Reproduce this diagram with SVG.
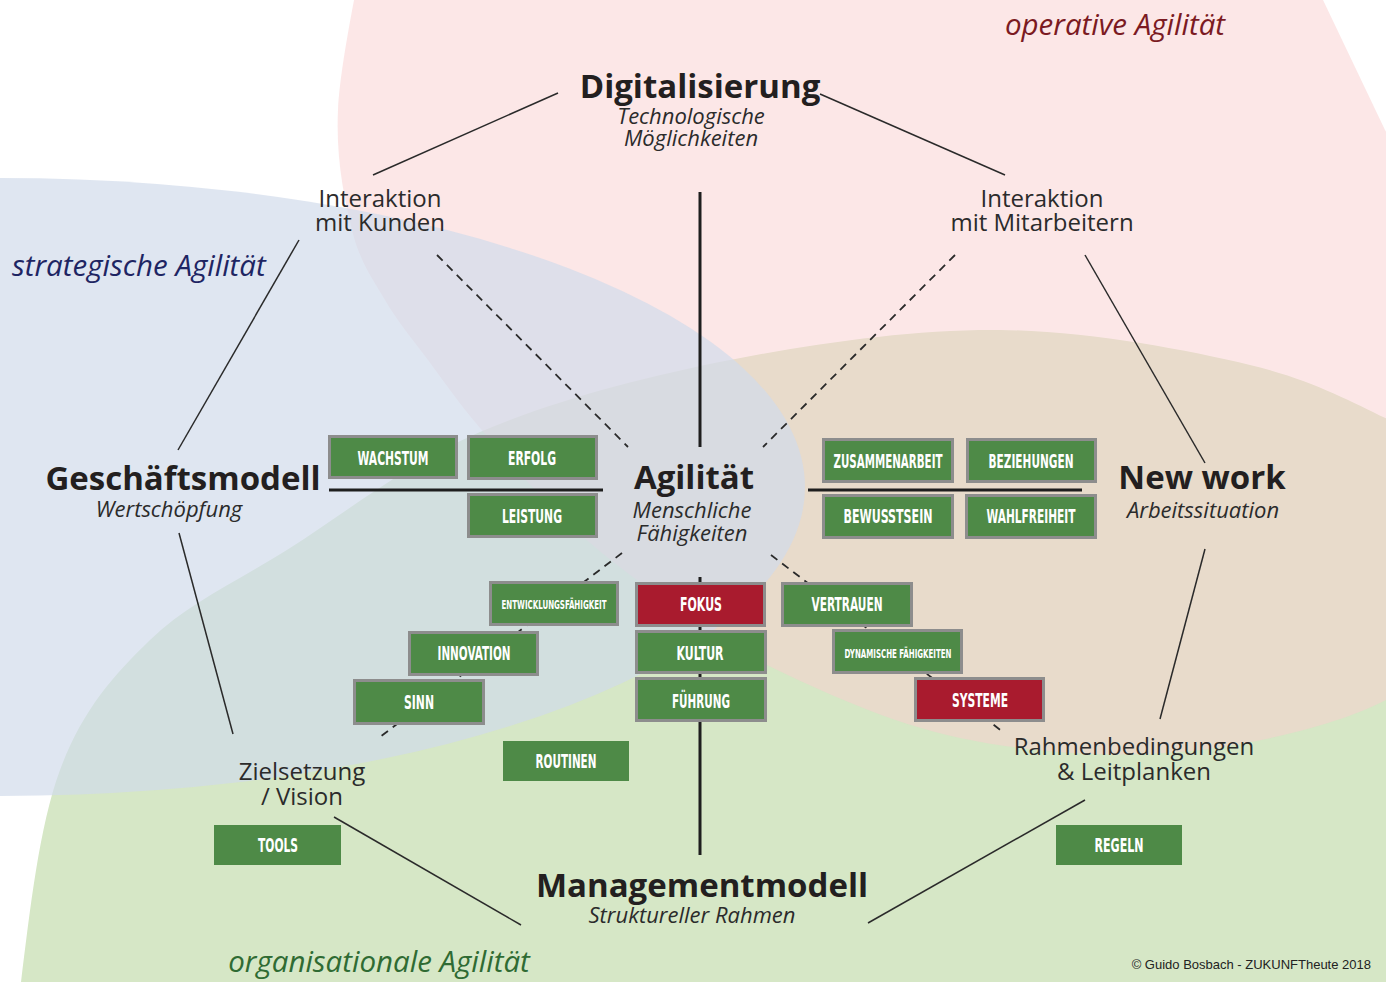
<svg xmlns="http://www.w3.org/2000/svg" width="1386" height="982" viewBox="0 0 1386 982">
<defs>
<style>
.title{font-family:"Open Sans","DejaVu Sans",sans-serif;font-weight:bold;font-size:33px;fill:#231f20;text-anchor:middle}
.sub{font-family:"Open Sans","DejaVu Sans",sans-serif;font-style:italic;font-size:22px;fill:#2b2b2b;text-anchor:middle}
.mid{font-family:"Open Sans","DejaVu Sans",sans-serif;font-size:24px;fill:#2b2b2b;text-anchor:middle}
.area{font-family:"Open Sans","DejaVu Sans",sans-serif;font-style:italic;font-size:29.5px}
.box{fill:#4e8a47;stroke:#8d8d8d;stroke-width:3}
.boxr{fill:#a91b2e;stroke:#8d8d8d;stroke-width:3}
.flat{fill:#4e8a47}
.lbl{font-family:"DejaVu Sans Condensed","DejaVu Sans",sans-serif;font-stretch:condensed;font-weight:bold;font-size:19px;fill:#ffffff;text-anchor:middle}
.lbls{font-family:"DejaVu Sans Condensed","DejaVu Sans",sans-serif;font-stretch:condensed;font-weight:bold;font-size:12.5px;fill:#ffffff;text-anchor:middle}
.ln{stroke:#2a2a2a;stroke-width:1.5;fill:none}
.thick{stroke:#1e1e1e;stroke-width:3;fill:none}
.dash{stroke:#2a2a2a;stroke-width:1.8;fill:none;stroke-dasharray:8 6}
</style>
</defs>
<rect x="0" y="0" width="1386" height="982" fill="#ffffff"/>
<g id="background">
<path id="green-area" fill="#d6e7c6" d="M 5,1100 L 20,990 C 29.2,918.3 38.3,828.3 60,770 C 81.7,711.7 111.7,677 150,640 C 188.3,603 235,582.7 290,548 C 345,513.3 406.7,463.3 480,432 C 553.3,400.7 643.3,377 730,360 C 816.7,343 913.3,329.2 1000,330 C 1086.7,330.8 1183.3,349.2 1250,365 C 1316.7,380.8 1358.3,405.8 1400,425 L 1500,480 L 1500,1100 Z"/>
<path id="pink-area" fill="#f9cfcf" fill-opacity="0.5" d="M 370,-100 L 365,-60 C 359.7,-25 340.2,61.7 338,110 C 335.8,158.3 344.2,198.3 352,230 C 359.8,261.7 372.3,278.3 385,300 C 397.7,321.7 412.2,338.7 428,360 C 443.8,381.3 458,402.2 480,428 C 502,453.8 533.3,489.3 560,515 C 586.7,540.7 605.5,557 640,582 C 674.5,607 713.7,639 767,665 C 820.3,691 891.2,723.5 960,738 C 1028.8,752.5 1109,758.3 1180,752 C 1251,745.7 1337.7,725.3 1386,700 C 1434.3,674.7 1460,630 1470,600 C 1480,400 1440,220 1385,130 L 1323,0 L 1290,-100 Z"/>
<ellipse id="blue-area" cx="0" cy="487" rx="805" ry="309" fill="#d1dbeb" fill-opacity="0.69"/>
</g>
<g id="area-labels">
<text class="area" x="1115" y="35" fill="#7b1a22" text-anchor="middle">operative Agilität</text>
<text class="area" x="12" y="276" fill="#1e2563">strategische Agilität</text>
<text class="area" x="379" y="972" fill="#2f6b33" text-anchor="middle" font-size="31">organisationale Agilität</text>
</g>
<g id="connectors">
<line class="ln" x1="558" y1="93" x2="373" y2="175"/>
<line class="ln" x1="820" y1="94" x2="1005" y2="175"/>
<line class="ln" x1="299" y1="240" x2="178" y2="450"/>
<line class="ln" x1="1085" y1="255" x2="1205" y2="463"/>
<line class="ln" x1="179" y1="533" x2="233" y2="734"/>
<line class="ln" x1="1205" y1="549" x2="1160" y2="719"/>
<line class="ln" x1="334" y1="817" x2="521" y2="925"/>
<line class="ln" x1="1085" y1="800" x2="868" y2="923"/>
<line class="thick" x1="700" y1="192" x2="700" y2="447"/>
<line class="thick" x1="700" y1="577" x2="700" y2="855"/>
<line class="thick" x1="329" y1="490" x2="603" y2="490"/>
<line class="thick" x1="808" y1="490" x2="1082" y2="490"/>
<line class="dash" x1="437" y1="255" x2="628" y2="447"/>
<line class="dash" x1="955" y1="255" x2="763" y2="447"/>
<line class="dash" x1="622" y1="553" x2="380" y2="737"/>
<line class="dash" x1="771" y1="555" x2="1003" y2="732"/>
</g>
<g id="node-digitalisierung">
<text class="title" x="700" y="98">Digitalisierung</text>
<text class="sub" x="691" y="124">Technologische</text>
<text class="sub" x="691" y="146">Möglichkeiten</text>
</g>
<g id="node-interaktion-kunden">
<text class="mid" x="380" y="207">Interaktion</text>
<text class="mid" x="380" y="231">mit Kunden</text>
</g>
<g id="node-interaktion-mitarbeitern">
<text class="mid" x="1042" y="207">Interaktion</text>
<text class="mid" x="1042" y="231">mit Mitarbeitern</text>
</g>
<g id="node-geschaeftsmodell">
<text class="title" x="183" y="490">Geschäftsmodell</text>
<text class="sub" x="169" y="517">Wertschöpfung</text>
</g>
<g id="node-agilitaet">
<text class="title" x="694" y="489">Agilität</text>
<text class="sub" x="692" y="518">Menschliche</text>
<text class="sub" x="692" y="541">Fähigkeiten</text>
</g>
<g id="node-newwork">
<text class="title" x="1202" y="489">New work</text>
<text class="sub" x="1203" y="518">Arbeitssituation</text>
</g>
<g id="node-zielsetzung">
<text class="mid" x="302" y="780">Zielsetzung</text>
<text class="mid" x="302" y="805">/ Vision</text>
</g>
<g id="node-rahmenbedingungen">
<text class="mid" x="1134" y="755" font-size="24.5">Rahmenbedingungen</text>
<text class="mid" x="1134" y="780" font-size="24.5">&amp; Leitplanken</text>
</g>
<g id="node-managementmodell">
<text class="title" x="702" y="897">Managementmodell</text>
<text class="sub" x="692" y="923">Struktureller Rahmen</text>
</g>
<g id="box-wachstum"><rect class="box" x="329.5" y="436.5" width="127" height="41"/><text class="lbl" x="393" y="465" textLength="71" lengthAdjust="spacingAndGlyphs">WACHSTUM</text></g>
<g id="box-erfolg"><rect class="box" x="468.5" y="436.5" width="128" height="42"/><text class="lbl" x="532" y="465" textLength="48" lengthAdjust="spacingAndGlyphs">ERFOLG</text></g>
<g id="box-leistung"><rect class="box" x="468.5" y="494.5" width="128" height="42"/><text class="lbl" x="532" y="523" textLength="60" lengthAdjust="spacingAndGlyphs">LEISTUNG</text></g>
<g id="box-zusammenarbeit"><rect class="box" x="823.5" y="439.5" width="129" height="42"/><text class="lbl" x="888" y="468" textLength="109" lengthAdjust="spacingAndGlyphs">ZUSAMMENARBEIT</text></g>
<g id="box-beziehungen"><rect class="box" x="967.5" y="439.5" width="128" height="42"/><text class="lbl" x="1031" y="468" textLength="85" lengthAdjust="spacingAndGlyphs">BEZIEHUNGEN</text></g>
<g id="box-bewusstsein"><rect class="box" x="823.5" y="495.5" width="129" height="42"/><text class="lbl" x="888" y="523" textLength="89" lengthAdjust="spacingAndGlyphs">BEWUSSTSEIN</text></g>
<g id="box-wahlfreiheit"><rect class="box" x="966.5" y="495.5" width="129" height="42"/><text class="lbl" x="1031" y="523" textLength="89" lengthAdjust="spacingAndGlyphs">WAHLFREIHEIT</text></g>
<g id="box-entwicklungsfaehigkeit"><rect class="box" x="490.5" y="582.5" width="127" height="42"/><text class="lbls" x="554" y="609" textLength="105" lengthAdjust="spacingAndGlyphs">ENTWICKLUNGSFÄHIGKEIT</text></g>
<g id="box-fokus"><rect class="boxr" x="636.5" y="583.5" width="128" height="42"/><text class="lbl" x="701" y="611" textLength="42" lengthAdjust="spacingAndGlyphs">FOKUS</text></g>
<g id="box-vertrauen"><rect class="box" x="782.5" y="583.5" width="129" height="42"/><text class="lbl" x="847" y="611" textLength="71" lengthAdjust="spacingAndGlyphs">VERTRAUEN</text></g>
<g id="box-innovation"><rect class="box" x="409.5" y="632.5" width="128" height="42"/><text class="lbl" x="474" y="660" textLength="73" lengthAdjust="spacingAndGlyphs">INNOVATION</text></g>
<g id="box-kultur"><rect class="box" x="636.5" y="631.5" width="129" height="41"/><text class="lbl" x="700" y="660" textLength="47" lengthAdjust="spacingAndGlyphs">KULTUR</text></g>
<g id="box-dynamische"><rect class="box" x="833.5" y="630.5" width="128" height="42"/><text class="lbls" x="898" y="658" textLength="107" lengthAdjust="spacingAndGlyphs">DYNAMISCHE FÄHIGKEITEN</text></g>
<g id="box-sinn"><rect class="box" x="354.5" y="680.5" width="129" height="43"/><text class="lbl" x="419" y="709" textLength="30" lengthAdjust="spacingAndGlyphs">SINN</text></g>
<g id="box-fuehrung"><rect class="box" x="636.5" y="678.5" width="129" height="42"/><text class="lbl" x="701" y="708" textLength="58" lengthAdjust="spacingAndGlyphs">FÜHRUNG</text></g>
<g id="box-systeme"><rect class="boxr" x="915.5" y="678.5" width="128" height="42"/><text class="lbl" x="980" y="707" textLength="56" lengthAdjust="spacingAndGlyphs">SYSTEME</text></g>
<g id="box-routinen"><rect class="flat" x="503" y="741" width="126" height="40"/><text class="lbl" x="566" y="768" textLength="61" lengthAdjust="spacingAndGlyphs">ROUTINEN</text></g>
<g id="box-tools"><rect class="flat" x="214" y="825" width="127" height="40"/><text class="lbl" x="278" y="852" textLength="40" lengthAdjust="spacingAndGlyphs">TOOLS</text></g>
<g id="box-regeln"><rect class="flat" x="1056" y="825" width="126" height="40"/><text class="lbl" x="1119" y="852" textLength="49" lengthAdjust="spacingAndGlyphs">REGELN</text></g>
<g id="copyright">
<text x="1371" y="969" font-family="'Liberation Sans',Arial,sans-serif" font-size="13" fill="#222" text-anchor="end">© Guido Bosbach - ZUKUNFTheute 2018</text>
</g>
</svg>
